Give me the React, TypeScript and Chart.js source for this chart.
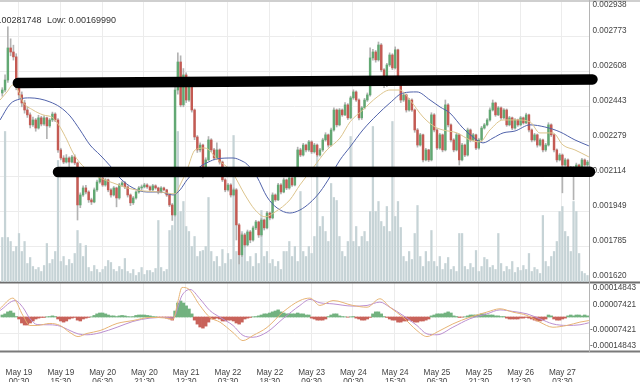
import React, { useEffect, useRef } from "react";
import { Chart, registerables } from "chart.js";

Chart.register(...registerables);

// ---------- DATA (prices in units of 1e-6) ----------
const PRICE_UNIT = 1e-6;

// hourly candles, first candle = May 18 18:30, hour 0 = May 19 00:30
const opens = [
  2505, 2519, 2566, 2717, 2698, 2675, 2533, 2496, 2458, 2425,
  2402, 2355, 2378, 2340, 2388, 2359, 2388, 2350, 2378, 2406,
  2378, 2237, 2199, 2180, 2199, 2180, 2204, 2176, 1978, 2025,
  2058, 2039, 2002, 1992, 2049, 2086, 2105, 2072, 2096, 2049,
  2025, 2058, 2011, 2072, 2082, 2063, 2025, 1988, 2011, 2039,
  2058, 2063, 2072, 2063, 2049, 2068, 2058, 2039, 2058, 2049,
  2025, 1978, 1931, 2519, 2651, 2449, 2590, 2472, 2566, 2425,
  2298, 2237, 2260, 2119, 2190, 2284, 2237, 2199, 2237, 2180,
  2096, 2049, 2072, 2025, 2049, 1884, 1743, 1837, 1790, 1851,
  1813, 1870, 1898, 1837, 1907, 1870, 1940, 1917, 2025, 2002,
  2072, 2039, 2096, 2058, 2105, 2072, 2143, 2237, 2213, 2260,
  2237, 2275, 2228, 2260, 2213, 2237, 2284, 2308, 2260, 2331,
  2425, 2355, 2425, 2402, 2449, 2388, 2482, 2510, 2472, 2388,
  2435, 2472, 2496, 2670, 2698, 2661, 2731, 2614, 2543, 2637,
  2684, 2623, 2708, 2566, 2472, 2496, 2425, 2472, 2425, 2331,
  2260, 2308, 2190, 2237, 2190, 2402, 2331, 2246, 2308, 2237,
  2449, 2355, 2284, 2237, 2308, 2190, 2260, 2213, 2331, 2284,
  2308, 2246, 2284, 2340, 2355, 2378, 2425, 2458, 2402, 2435,
  2388, 2425, 2355, 2388, 2340, 2378, 2355, 2388, 2364, 2402,
  2331, 2284, 2308, 2260, 2284, 2237, 2260, 2355, 2308, 2237,
  2190, 2213, 2166, 2190, 2143, 2152, 2119, 2166, 2133, 2190,
  2166,
];

const closes = [
  2519, 2566, 2717, 2698, 2675, 2533, 2496, 2458, 2425, 2402,
  2355, 2378, 2340, 2388, 2359, 2388, 2350, 2378, 2406, 2378,
  2237, 2199, 2180, 2199, 2180, 2204, 2176, 1978, 2025, 2058,
  2039, 2002, 1992, 2049, 2086, 2105, 2072, 2096, 2049, 2025,
  2058, 2011, 2072, 2082, 2063, 2025, 1988, 2011, 2039, 2058,
  2063, 2072, 2063, 2049, 2068, 2058, 2039, 2058, 2049, 2025,
  1978, 1931, 2519, 2651, 2449, 2590, 2472, 2566, 2425, 2298,
  2237, 2260, 2119, 2190, 2284, 2237, 2199, 2237, 2180, 2096,
  2049, 2072, 2025, 2049, 1884, 1743, 1837, 1790, 1851, 1813,
  1870, 1898, 1837, 1907, 1870, 1940, 1917, 2025, 2002, 2072,
  2039, 2096, 2058, 2105, 2072, 2143, 2237, 2213, 2260, 2237,
  2275, 2228, 2260, 2213, 2237, 2284, 2308, 2260, 2331, 2425,
  2355, 2425, 2402, 2449, 2388, 2482, 2510, 2472, 2388, 2435,
  2472, 2496, 2670, 2698, 2661, 2731, 2614, 2543, 2637, 2684,
  2623, 2708, 2566, 2472, 2496, 2425, 2472, 2425, 2331, 2260,
  2308, 2190, 2237, 2190, 2402, 2331, 2246, 2308, 2237, 2449,
  2355, 2284, 2237, 2308, 2190, 2260, 2213, 2331, 2284, 2308,
  2246, 2284, 2340, 2355, 2378, 2425, 2458, 2402, 2435, 2388,
  2425, 2355, 2388, 2340, 2378, 2355, 2388, 2364, 2402, 2331,
  2284, 2308, 2260, 2284, 2237, 2260, 2355, 2308, 2237, 2190,
  2213, 2166, 2190, 2143, 2152, 2119, 2166, 2133, 2190, 2166,
  2180,
];

const highs = [
  2530, 2590, 2817, 2760, 2730, 2690, 2550, 2510, 2470, 2440,
  2412, 2392, 2385, 2400, 2395, 2398, 2392, 2385, 2415, 2412,
  2385, 2245, 2210, 2215, 2205, 2212, 2214, 2180, 2035, 2068,
  2070, 2045, 2010, 2058, 2095, 2115, 2110, 2102, 2100, 2055,
  2065, 2062, 2080, 2090, 2088, 2068, 2030, 2018, 2045, 2065,
  2072, 2080, 2078, 2068, 2075, 2073, 2062, 2064, 2062, 2052,
  2030, 1985, 2545, 2694, 2680, 2620, 2600, 2580, 2575, 2430,
  2305, 2270, 2265, 2200, 2300, 2290, 2245, 2270, 2242, 2185,
  2102, 2080, 2078, 2058, 2055, 1890, 1845, 1845, 1860, 1858,
  1878, 1905, 1902, 1915, 1912, 1948, 1945, 2035, 2030, 2080,
  2078, 2105, 2100, 2112, 2110, 2150, 2250, 2245, 2268, 2265,
  2282, 2280, 2268, 2265, 2245, 2292, 2318, 2312, 2340, 2435,
  2430, 2432, 2430, 2460, 2455, 2490, 2520, 2515, 2478, 2442,
  2480, 2505, 2717, 2710, 2705, 2745, 2738, 2620, 2645, 2694,
  2690, 2722, 2712, 2572, 2505, 2500, 2480, 2478, 2430, 2338,
  2315, 2312, 2245, 2240, 2412, 2408, 2338, 2315, 2312, 2472,
  2455, 2360, 2290, 2315, 2312, 2268, 2265, 2340, 2336, 2315,
  2312, 2292, 2348, 2362, 2385, 2435, 2472, 2462, 2442, 2440,
  2432, 2430, 2395, 2392, 2385, 2382, 2395, 2392, 2410, 2406,
  2336, 2315, 2312, 2290, 2288, 2268, 2365, 2360, 2312, 2242,
  2220, 2218, 2198, 2195, 2160, 2158, 2175, 2170, 2198, 2195,
  2188,
];

const lows = [
  2490, 2510, 2555, 2680, 2660, 2520, 2480, 2440, 2410, 2390,
  2340, 2348, 2325, 2335, 2350, 2352, 2290, 2343, 2370, 2370,
  2225, 2190, 2172, 2175, 2150, 2176, 2168, 1907, 1965, 2018,
  2030, 1990, 1980, 1988, 2042, 2080, 2065, 2066, 2040, 2015,
  2020, 1969, 2005, 2065, 2055, 2015, 1975, 1980, 2005, 2033,
  2050, 2058, 2056, 2042, 2045, 2052, 2030, 2035, 2044, 2018,
  1970, 1905, 1925, 2500, 2440, 2440, 2460, 2465, 2415, 2285,
  2225, 2228, 2105, 2112, 2185, 2228, 2190, 2192, 2170, 2088,
  2040, 2043, 2015, 2020, 1813, 1700, 1735, 1780, 1785, 1800,
  1808, 1862, 1825, 1830, 1860, 1865, 1908, 1912, 1995, 1998,
  2030, 2035, 2050, 2052, 2065, 2068, 2138, 2205, 2208, 2228,
  2230, 2220, 2222, 2205, 2208, 2230, 2278, 2250, 2255, 2325,
  2345, 2350, 2395, 2398, 2380, 2383, 2475, 2465, 2378, 2380,
  2430, 2465, 2490, 2660, 2650, 2655, 2605, 2530, 2535, 2630,
  2615, 2618, 2555, 2460, 2465, 2415, 2420, 2418, 2320, 2250,
  2255, 2180, 2185, 2182, 2185, 2322, 2238, 2240, 2228, 2232,
  2345, 2275, 2228, 2232, 2166, 2185, 2205, 2208, 2275, 2278,
  2238, 2240, 2278, 2335, 2350, 2372, 2420, 2395, 2398, 2380,
  2383, 2348, 2350, 2332, 2335, 2348, 2350, 2358, 2360, 2322,
  2275, 2278, 2250, 2255, 2228, 2230, 2255, 2300, 2228, 2180,
  2185, 2035, 2160, 2135, 2138, 2002, 2112, 2125, 2128, 2160,
  2160,
];

// relative volume per candle
const volumes = [
  44, 150, 44, 40, 30, 35, 48, 30, 40, 18,
  24, 15, 12, 14, 10, 16, 38, 18, 22, 30,
  121, 20, 25, 16, 22, 18, 28, 51, 38, 25,
  36, 14, 10, 16, 12, 9, 12, 15, 21, 19,
  12, 10, 15, 12, 23, 10, 8, 12, 6, 9,
  14, 7, 11, 11, 9, 13, 61, 14, 10, 12,
  51, 56, 140, 150, 70, 80, 55, 50, 35, 45,
  25, 30, 31, 35, 84, 30, 20, 25, 15, 32,
  18, 28, 22, 146, 30, 25, 50, 45, 20, 25,
  15, 28, 18, 71, 25, 30, 18, 22, 15, 20,
  12, 30, 30, 40, 25, 35, 20, 90, 30, 25,
  35, 28, 45, 125, 55, 65, 50, 40, 98, 84,
  81, 45, 30, 25, 40, 145, 40, 55, 35, 45,
  50, 40, 70, 155, 70, 80, 60, 55, 75, 50,
  160, 65, 80, 54, 25, 20, 30, 22, 48, 76,
  25, 15, 30, 20, 51, 20, 15, 25, 12, 18,
  24, 12, 15, 10, 48, 48, 15, 12, 18, 14,
  31, 10, 15, 24, 22, 14, 16, 12, 48, 18,
  10, 15, 12, 20, 9, 14, 11, 16, 12, 28,
  10, 14, 12, 8, 66, 20, 15, 25, 30, 40,
  70, 75, 50, 45, 30, 80, 70, 28, 10, 8,
  6,
];

// MACD histogram per candle (units of 1e-6)
const macdHist = [
  9, 14, 23, 27, 18, 2, -9, -27, -36, -36,
  -27, -18, -9, -5, -2, -2, 1, 2, 5, 2,
  -9, -18, -23, -18, -9, -5, -2, -14, -18, -9,
  -5, -2, 1, 7, 14, 18, 18, 14, 9, 5,
  5, 2, 5, 7, 5, 2, 1, 2, 7, 9,
  9, 9, 7, 5, 2, 1, -2, -2, -1, -5,
  -9, -14, 27, 63, 72, 63, 50, 36, 14, -14,
  -32, -45, -50, -41, -23, -9, -9, -5, -9, -18,
  -18, -14, -14, -18, -27, -32, -23, -9, -5, -2,
  1, 2, 5, 9, 14, 14, 18, 23, 27, 32,
  23, 18, 14, 14, 14, 14, 18, 14, 14, 9,
  9, -5, -9, -14, -14, -14, -9, 2, 9, 14,
  14, 5, 2, 1, -1, 1, 2, -5, -9, -14,
  -14, -9, -2, 14, 23, 23, 14, 2, -2, -9,
  -14, -14, -23, -23, -18, -18, -14, -18, -23, -23,
  -18, -18, -14, -9, 5, 9, 14, 14, 14, 18,
  23, 18, 5, 2, -2, -1, 1, 5, 9, 9,
  9, 9, 14, 14, 9, 9, 9, 5, 5, 2,
  2, -5, -9, -9, -9, -9, -5, -5, -2, -5,
  -9, -14, -18, -18, -14, -9, 9, 5, -9, -14,
  -14, -9, -5, 5, 9, 5, 9, 9, 5, 9,
  5,
];

// moving averages (hour, price 1e-6)
const fastMaHours = [-6.8, -4.3, -2.2, -0.4, 1.4, 5.0, 8.6, 12.2, 14.7, 17.2, 19.4, 21.9, 25.5, 29.1, 33.7, 38.8, 44.5, 50.6, 56.0, 57.8, 60.3, 63.2, 66.7, 71.4, 76.4, 81.1, 84.7, 88.3, 91.9, 97.2, 100.8, 105.5, 110.5, 115.2, 118.8, 123.4, 128.5, 133.1, 136.7, 140.3, 145.0, 149.3, 152.1, 157.2, 161.8, 165.4, 169.0, 173.7, 178.7, 183.4, 186.9, 191.6, 195.2, 199.5, 204.5];
const fastMa = [2472, 2510, 2543, 2519, 2463, 2425, 2402, 2388, 2345, 2284, 2223, 2176, 2133, 2105, 2082, 2058, 2044, 2039, 2030, 2072, 2143, 2237, 2246, 2190, 2133, 2025, 1955, 1922, 1945, 2002, 2072, 2152, 2237, 2293, 2369, 2425, 2486, 2519, 2519, 2472, 2392, 2345, 2331, 2317, 2284, 2275, 2331, 2378, 2378, 2369, 2317, 2317, 2260, 2237, 2204];

const slowMaHours = [-6.8, -3.2, 0.4, 3.9, 7.5, 11.1, 14.7, 18.3, 21.9, 25.5, 29.1, 32.7, 36.2, 40.9, 45.9, 50.6, 55.3, 57.8, 60.3, 64.9, 68.0, 71.0, 76.8, 80.0, 81.8, 85.4, 89.0, 92.6, 97.2, 100.8, 104.4, 108.0, 111.6, 115.2, 118.8, 123.4, 128.5, 133.1, 137.8, 142.8, 147.5, 151.1, 154.6, 159.3, 162.9, 166.5, 170.1, 173.7, 178.0, 183.4, 188.7, 194.1, 199.5, 204.5];
const slowMa = [2378, 2453, 2477, 2482, 2477, 2463, 2439, 2397, 2331, 2260, 2213, 2162, 2105, 2058, 2039, 2039, 2025, 2049, 2096, 2157, 2180, 2195, 2199, 2185, 2170, 2110, 2016, 1964, 1940, 1954, 1988, 2039, 2110, 2190, 2251, 2331, 2402, 2458, 2505, 2510, 2472, 2439, 2411, 2340, 2298, 2270, 2293, 2317, 2326, 2355, 2345, 2322, 2284, 2256];

// MACD and signal lines (hour, value 1e-6)
const macdHours = [-6.8, -2.2, 1.4, 3.9, 6.5, 11.1, 14.7, 18.3, 21.2, 24.4, 29.1, 35.2, 40.9, 47.0, 53.1, 55.3, 57.1, 58.5, 60.6, 64.9, 68.5, 72.1, 76.8, 80.4, 84.0, 89.0, 94.7, 100.8, 104.4, 108.0, 112.7, 119.8, 124.9, 129.5, 133.1, 137.8, 142.8, 146.4, 150.0, 155.7, 161.8, 167.9, 172.6, 177.2, 182.3, 186.9, 191.6, 196.6, 201.3, 204.5];
const macdLine = [38, 85, 7, -38, -38, -29, -38, -70, -88, -74, -61, -29, -16, -2, -5, -11, 74, 133, 128, 52, -2, -23, -70, -106, -83, -47, 22, 74, 85, 52, 74, 52, 44, 82, 44, -1, -61, -88, -68, -31, -1, 22, 37, 22, 7, -23, -46, -38, -23, -16];
const signalHours = [-6.8, -1.4, 1.4, 3.9, 6.5, 11.1, 14.7, 18.3, 21.2, 24.4, 29.1, 35.2, 40.9, 47.0, 53.1, 55.3, 58.5, 61.4, 64.9, 68.5, 72.1, 76.8, 80.4, 84.0, 89.0, 94.7, 100.8, 104.4, 108.0, 112.7, 119.8, 124.9, 129.5, 133.1, 137.8, 142.8, 146.4, 150.0, 155.7, 161.8, 167.9, 172.6, 177.2, 182.3, 186.9, 191.6, 196.6, 201.3, 204.5];
const signalLine = [29, 74, 43, -7, -34, -35, -41, -61, -76, -80, -71, -46, -20, -5, -2, -5, 97, 124, 82, 29, -1, -38, -83, -91, -68, -8, 52, 79, 64, 59, 49, 52, 67, 44, 7, -38, -76, -80, -46, -8, 14, 32, 25, 14, -8, -31, -38, -35, -26];

// hand-drawn trend lines (hour, price)
const trendUpperHours = [-0.4, 205.8];
const trendUpperPrices = [0.002552, 0.002569];
const trendLowerHours = [14.0, 204.9];
const trendLowerPrices = [0.002133, 0.002134];

// axis ticks
const tickHours = [0, 15, 30, 45, 60, 75, 90, 105, 120, 135, 150, 165, 180, 195];
const tickDates = ["May 19", "May 19", "May 20", "May 20", "May 21", "May 22", "May 22", "May 23", "May 24", "May 24", "May 25", "May 25", "May 26", "May 27"];
const tickTimes = ["00:30", "15:30", "06:30", "21:30", "12:30", "03:30", "18:30", "09:30", "00:30", "15:30", "06:30", "21:30", "12:30", "03:30"];
const priceTickValues = [0.002938, 0.00277325, 0.0026085, 0.00244375, 0.002279, 0.00211425, 0.0019495, 0.00178475, 0.00162];
const priceTickLabels = ["0.002938", "0.002773", "0.002608", "0.002443", "0.002279", "0.002114", "0.001949", "0.001785", "0.001620"];
const macdTickValues = [0.00014843, 0.00007421, -0.00007421, -0.00014843];
const macdTickLabels = ["0.00014843", "0.00007421", "-0.00007421", "-0.00014843"];
const highLabel = "High: 0.00281748";
const lowLabel = "Low: 0.00169990";

// ---------- LAYOUT ----------
const W = 640;
const H = 382;
const AREA_RIGHT = 589;
const AREA_BOTTOM = 351;
const HOUR_PX = 41.8 / 15;
const X_ZERO_PX = 19;
const PRICE_TOP_PX = 1;
const PRICE_BOTTOM_PX = 281;
const VOL_BASE_PX = 281.5;
const MACD_TOP_PX = 284;
const MACD_BOTTOM_PX = 350;
const FONT = '"Liberation Sans", Arial, sans-serif';

const xMin = -X_ZERO_PX / HOUR_PX;
const xMax = xMin + AREA_RIGHT / HOUR_PX;
const pricePerPx = (priceTickValues[0] - priceTickValues[8]) / (PRICE_BOTTOM_PX - PRICE_TOP_PX);
const yMax = priceTickValues[0] + PRICE_TOP_PX * pricePerPx;
const yMin = priceTickValues[8] - (AREA_BOTTOM - PRICE_BOTTOM_PX) * pricePerPx;
const macdPerPx = (macdTickValues[0] - macdTickValues[3]) / (MACD_BOTTOM_PX - MACD_TOP_PX);
const mMax = macdTickValues[0] + MACD_TOP_PX * macdPerPx;
const mMin = macdTickValues[3] - (AREA_BOTTOM - MACD_BOTTOM_PX) * macdPerPx;

const GREEN = "#62a873";
const RED = "#c45a53";

const decorPlugin = {
  id: "decor",
  beforeDatasetsDraw(chart: any) {
    const ctx = chart.ctx;
    const xs = chart.scales.x;
    const ys = chart.scales.y;
    const ms = chart.scales.yMacd;
    const a = chart.chartArea;
    ctx.save();
    // grid
    ctx.strokeStyle = "#ececec";
    ctx.lineWidth = 1;
    tickHours.forEach((h) => {
      const px = Math.round(xs.getPixelForValue(h)) - 0.5;
      ctx.beginPath();
      ctx.moveTo(px, a.top);
      ctx.lineTo(px, a.bottom);
      ctx.stroke();
    });
    priceTickValues.slice(1, -1).forEach((v) => {
      const py = Math.round(ys.getPixelForValue(v)) + 0.5;
      ctx.beginPath();
      ctx.moveTo(a.left, py);
      ctx.lineTo(a.right, py);
      ctx.stroke();
    });
    [macdTickValues[1], macdTickValues[2]].forEach((v) => {
      const py = Math.round(ms.getPixelForValue(v)) + 0.5;
      ctx.beginPath();
      ctx.moveTo(a.left, py);
      ctx.lineTo(a.right, py);
      ctx.stroke();
    });
    // borders
    ctx.fillStyle = "#cfcfcf";
    ctx.fillRect(0, 0, W, 2);
    ctx.fillStyle = "#6e6e6e";
    ctx.fillRect(0, 281.5, W, 2);
    ctx.fillStyle = "#7a7a7a";
    ctx.fillRect(0, 350.5, W, 2);
    ctx.fillStyle = "#b4b4b4";
    ctx.fillRect(AREA_RIGHT, 0, 1, 352);
    // right labels
    ctx.fillStyle = "#444";
    ctx.font = "8.2px " + FONT;
    ctx.textBaseline = "middle";
    ctx.textAlign = "left";
    priceTickValues.forEach((v, k) => {
      const py = ys.getPixelForValue(v);
      ctx.fillText(priceTickLabels[k], 592.5, k === 0 ? py + 4 : py - 5);
    });
    ctx.textAlign = "right";
    macdTickValues.forEach((v, k) => {
      const py = ms.getPixelForValue(v);
      ctx.fillText(macdTickLabels[k], 636, v > 0 ? py + 4 : py - 4);
    });
    // x labels
    ctx.textAlign = "center";
    tickHours.forEach((h, k) => {
      const px = xs.getPixelForValue(h);
      ctx.fillText(tickDates[k], px, 372.5);
      ctx.fillText(tickTimes[k], px, 382);
    });
    // high / low text
    ctx.fillStyle = "#333";
    ctx.font = "9px " + FONT;
    ctx.textAlign = "right";
    ctx.fillText(highLabel, 41.5, 21);
    ctx.textAlign = "left";
    ctx.fillText(lowLabel, 47, 21);
    ctx.restore();
  },
};

export default function App() {
  const ref = useRef<HTMLCanvasElement>(null);
  useEffect(() => {
    document.body.style.margin = "0";
    const hours = closes.map((_, i) => i - 6);
    const zip = (xsArr: number[], vals: number[], scale: number) =>
      xsArr.map((x, i) => ({ x, y: vals[i] * scale }));
    const chart = new Chart(ref.current as HTMLCanvasElement, {
      type: "bar",
      data: {
        datasets: [
          {
            type: "bar",
            data: volumes.map((v, i) => ({ x: hours[i], y: v })),
            yAxisID: "yVol",
            backgroundColor: "#c6d3d6",
            barThickness: 1.6,
            grouped: false,
            order: 10,
          },
          {
            type: "bar",
            data: lows.map((l, i) => ({ x: hours[i], y: [l * PRICE_UNIT, highs[i] * PRICE_UNIT] })),
            yAxisID: "y",
            backgroundColor: "#b3b3b3",
            barThickness: 1,
            grouped: false,
            order: 8,
          },
          {
            type: "bar",
            data: opens.map((o, i) => ({ x: hours[i], y: [o * PRICE_UNIT, closes[i] * PRICE_UNIT] })),
            yAxisID: "y",
            backgroundColor: opens.map((o, i) => (closes[i] >= o ? GREEN : RED)),
            barThickness: 1.8,
            minBarLength: 1,
            grouped: false,
            order: 7,
          },
          {
            type: "line",
            data: zip(fastMaHours, fastMa, PRICE_UNIT),
            yAxisID: "y",
            borderColor: "#dcc48c",
            borderWidth: 1,
            pointRadius: 0,
            cubicInterpolationMode: "monotone",
            order: 5,
          },
          {
            type: "line",
            data: zip(slowMaHours, slowMa, PRICE_UNIT),
            yAxisID: "y",
            borderColor: "#5062aa",
            borderWidth: 1,
            pointRadius: 0,
            cubicInterpolationMode: "monotone",
            order: 5,
          },
          {
            type: "bar",
            data: macdHist.map((v, i) => ({ x: hours[i], y: v * PRICE_UNIT })),
            yAxisID: "yMacd",
            backgroundColor: macdHist.map((v) => (v >= 0 ? "#72b27f" : "#c8625a")),
            barThickness: 2.8,
            grouped: false,
            order: 6,
          },
          {
            type: "line",
            data: zip(macdHours, macdLine, PRICE_UNIT),
            yAxisID: "yMacd",
            borderColor: "#e7b475",
            borderWidth: 1,
            pointRadius: 0,
            cubicInterpolationMode: "monotone",
            order: 4,
          },
          {
            type: "line",
            data: zip(signalHours, signalLine, PRICE_UNIT),
            yAxisID: "yMacd",
            borderColor: "#bb8fd0",
            borderWidth: 1,
            pointRadius: 0,
            cubicInterpolationMode: "monotone",
            order: 4,
          },
          {
            type: "line",
            data: zip(trendUpperHours, trendUpperPrices, 1),
            yAxisID: "y",
            borderColor: "#000",
            borderWidth: 10.5,
            borderCapStyle: "round",
            pointRadius: 0,
            clip: false,
            order: 0,
          },
          {
            type: "line",
            data: zip(trendLowerHours, trendLowerPrices, 1),
            yAxisID: "y",
            borderColor: "#000",
            borderWidth: 10.5,
            borderCapStyle: "round",
            pointRadius: 0,
            clip: false,
            order: 0,
          },
        ],
      } as any,
      options: {
        animation: false,
        responsive: false,
        devicePixelRatio: 1,
        events: [],
        layout: { padding: { left: 0, right: W - AREA_RIGHT, top: 0, bottom: H - AREA_BOTTOM } },
        plugins: { legend: { display: false }, tooltip: { enabled: false } },
        scales: {
          x: { type: "linear", min: xMin, max: xMax, offset: false, display: false },
          y: { type: "linear", min: yMin, max: yMax, display: false },
          yVol: { type: "linear", min: -(AREA_BOTTOM - VOL_BASE_PX), max: VOL_BASE_PX, display: false },
          yMacd: { type: "linear", min: mMin, max: mMax, display: false },
        },
      } as any,
      plugins: [decorPlugin],
    });
    return () => chart.destroy();
  }, []);
  return (
    <div style={{ position: "fixed", left: 0, top: 0, width: W, height: H, background: "#fff" }}>
      <canvas ref={ref} width={W} height={H} style={{ display: "block" }} />
    </div>
  );
}
